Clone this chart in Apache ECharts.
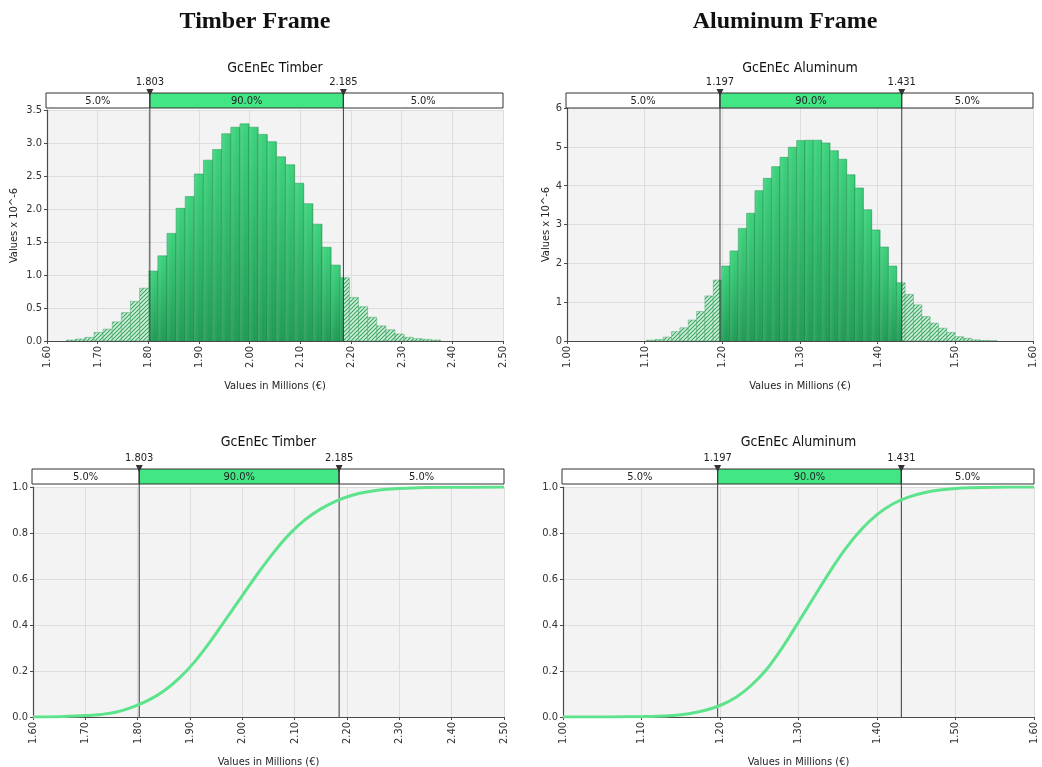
<!DOCTYPE html>
<html><head><meta charset="utf-8">
<script src="https://cdn.jsdelivr.net/npm/echarts@6/dist/echarts.min.js"></script>
<style>html,body{margin:0;padding:0;background:#fff}#c{width:1042px;height:767px}</style>
</head><body><div id="c"></div>
<script>
// ---------------- data ----------------
const timberBinStart = 1.6388;
const timberBinWidth = 0.018;
const timberDensity = [0.015, 0.03, 0.055, 0.13, 0.18, 0.29, 0.43, 0.60, 0.80, 1.06, 1.29, 1.63, 2.01, 2.19, 2.53, 2.74, 2.90, 3.14, 3.24, 3.29, 3.24, 3.13, 3.02, 2.79, 2.67, 2.39, 2.08, 1.77, 1.42, 1.15, 0.96, 0.66, 0.52, 0.36, 0.23, 0.17, 0.106, 0.056, 0.035, 0.025, 0.015];
const aluBinStart = 1.1024;
const aluBinWidth = 0.01074;
const aluDensity = [0.02, 0.04, 0.10, 0.24, 0.34, 0.54, 0.76, 1.16, 1.57, 1.93, 2.32, 2.90, 3.29, 3.87, 4.19, 4.49, 4.73, 4.99, 5.16, 5.17, 5.17, 5.10, 4.90, 4.68, 4.28, 3.94, 3.38, 2.86, 2.42, 1.93, 1.50, 1.20, 0.93, 0.63, 0.46, 0.33, 0.22, 0.11, 0.07, 0.03, 0.015, 0.008];
const timberDelims = [1.803, 2.185];
const aluDelims = [1.197, 1.431];
const pctLabels = ['5.0%', '90.0%', '5.0%'];
const timberCdfX = [1.60, 1.65, 1.70, 1.73, 1.76, 1.79, 1.82, 1.85, 1.88, 1.91, 1.94, 1.97, 2.00, 2.03, 2.06, 2.09, 2.12, 2.15, 2.18, 2.21, 2.24, 2.27, 2.30, 2.35, 2.40, 2.50];
const timberCdfY = [0, 0.001, 0.006, 0.011, 0.022, 0.043, 0.072, 0.113, 0.17, 0.243, 0.332, 0.43, 0.528, 0.625, 0.716, 0.795, 0.858, 0.905, 0.94, 0.964, 0.979, 0.989, 0.994, 0.998, 0.999, 1.0];
const aluCdfX = [1.00, 1.04, 1.08, 1.10, 1.12, 1.14, 1.16, 1.18, 1.20, 1.22, 1.24, 1.26, 1.28, 1.30, 1.32, 1.34, 1.36, 1.38, 1.40, 1.42, 1.44, 1.46, 1.48, 1.50, 1.52, 1.55, 1.60];
const aluCdfY = [0, 0, 0.001, 0.0015, 0.003, 0.007, 0.014, 0.028, 0.05, 0.085, 0.138, 0.21, 0.305, 0.413, 0.523, 0.632, 0.732, 0.815, 0.88, 0.926, 0.956, 0.975, 0.987, 0.994, 0.997, 0.999, 1.0];
const mainTitles = ['Timber Frame', 'Aluminum Frame'];
const subTitles = ['GcEnEc Timber', 'GcEnEc Aluminum'];
const xAxisName = 'Values in Millions (€)';
const yAxisName = 'Values x 10^-6';

// ---------------- helpers ----------------
const FONT = "'DejaVu Sans Condensed','DejaVu Sans',sans-serif";
function bins(start, w, vals) { return vals.map((v, i) => [start + i * w, start + (i + 1) * w, v]); }
function pairs(xs, ys) { return xs.map((x, i) => [x, ys[i]]); }

const pc = document.createElement('canvas'); pc.width = 4; pc.height = 4;
(function () {
  const g = pc.getContext('2d');
  g.fillStyle = '#d3eedb'; g.fillRect(0, 0, 4, 4);
  g.strokeStyle = '#36a462'; g.lineWidth = 1.1;
  g.beginPath();
  g.moveTo(0, 4); g.lineTo(4, 0);
  g.moveTo(-1, 1); g.lineTo(1, -1);
  g.moveTo(3, 5); g.lineTo(5, 3);
  g.stroke();
})();
const hatchPattern = { image: pc, repeat: 'repeat' };

function makeHistRender(delims) {
  return function (params, api) {
    const a = api.value(0), b = api.value(1), h = api.value(2);
    const pieces = [[a, Math.min(b, delims[0]), true], [Math.max(a, delims[0]), Math.min(b, delims[1]), false], [Math.max(a, delims[1]), b, true]];
    const children = [];
    pieces.forEach(([s, e, hatch]) => {
      if (e - s <= 1e-9) return;
      const p0 = api.coord([s, h]), p1 = api.coord([e, 0]);
      const shape = { x: p0[0], y: p0[1], width: p1[0] - p0[0], height: p1[1] - p0[1] };
      if (hatch) {
        children.push({ type: 'rect', shape, style: { fill: hatchPattern, stroke: '#4cae70', lineWidth: 0.5 } });
      } else {
        children.push({ type: 'rect', shape, style: { fill: new echarts.graphic.LinearGradient(0, 0, 0, 1, [{ offset: 0, color: '#3ad37b' }, { offset: 1, color: '#1e9a54' }]), stroke: '#1f9350', lineWidth: 0.5 } });
        children.push({ type: 'rect', shape, silent: true, style: { fill: new echarts.graphic.LinearGradient(0, 0, 1, 0, [{ offset: 0, color: 'rgba(255,255,255,0.12)' }, { offset: 0.6, color: 'rgba(255,255,255,0)' }, { offset: 1, color: 'rgba(0,60,20,0.15)' }]) } });
      }
    });
    return { type: 'group', children };
  };
}

function txt(x, y, text, size, va) {
  return { type: 'text', style: { text, x, y, font: size + 'px ' + FONT, fill: '#222', align: 'center', textAlign: 'center', verticalAlign: va || 'middle', textVerticalAlign: va || 'middle' } };
}

function makePctRender(barOffset) {
  return function (params, api) {
    const cs = params.coordSys;
    const d0 = api.value(0), d1 = api.value(1);
    const top = cs.y - barOffset, bh = 15;
    const x0 = api.coord([d0, 0])[0], x1 = api.coord([d1, 0])[0];
    const left = cs.x - 1, right = cs.x + cs.width;
    const bottom = cs.y + cs.height;
    const segs = [[left, x0, '#ffffff'], [x0, x1, '#42e685'], [x1, right, '#ffffff']];
    const children = [];
    segs.forEach((s, i) => {
      children.push({ type: 'rect', shape: { x: s[0], y: top, width: s[1] - s[0], height: bh }, style: { fill: s[2], stroke: '#333', lineWidth: 1 } });
      children.push(txt((s[0] + s[1]) / 2, top + bh / 2 + 0.5, pctLabels[i], 11));
    });
    [[x0, d0], [x1, d1]].forEach(([x, d]) => {
      children.push({ type: 'line', shape: { x1: x, y1: top, x2: x, y2: bottom }, style: { stroke: '#3a3a3a', lineWidth: 1 } });
      children.push({ type: 'polygon', shape: { points: [[x - 3.5, top - 4], [x + 3.5, top - 4], [x, top + 3]] }, style: { fill: '#333' } });
      children.push(txt(x, top - 5, d.toFixed(3), 11, 'bottom'));
    });
    return { type: 'group', children };
  };
}

// ---------------- layout ----------------
const panels = [
  { grid: { left: 47, top: 110, width: 456, height: 231 }, xmin: 1.6, xmax: 2.5, ymax: 3.5, yint: 0.5, ydec: 1, yName: true, nameGap: 27, delims: timberDelims, bar: 17, kind: 'hist', data: bins(timberBinStart, timberBinWidth, timberDensity), sub: subTitles[0], subY: 68 },
  { grid: { left: 567, top: 108, width: 466, height: 233 }, xmin: 1.0, xmax: 1.6, ymax: 6, yint: 1, ydec: 0, yName: true, nameGap: 15, delims: aluDelims, bar: 15, kind: 'hist', data: bins(aluBinStart, aluBinWidth, aluDensity), sub: subTitles[1], subY: 68 },
  { grid: { left: 33, top: 487, width: 471, height: 230 }, xmin: 1.6, xmax: 2.5, ymax: 1, yint: 0.2, ydec: 1, yName: false, delims: timberDelims, bar: 18, kind: 'cdf', data: pairs(timberCdfX, timberCdfY), sub: subTitles[0], subY: 442 },
  { grid: { left: 563, top: 487, width: 471, height: 230 }, xmin: 1.0, xmax: 1.6, ymax: 1, yint: 0.2, ydec: 1, yName: false, delims: aluDelims, bar: 18, kind: 'cdf', data: pairs(aluCdfX, aluCdfY), sub: subTitles[1], subY: 442 }
];

const axisColor = '#4a4a4a';
const option = {
  animation: false,
  textStyle: { fontFamily: FONT },
  grid: panels.map(p => Object.assign({ show: true, backgroundColor: '#f3f3f3', borderWidth: 0, containLabel: false, outerBoundsMode: 'none' }, p.grid)),
  xAxis: panels.map((p, i) => ({
    type: 'value', gridIndex: i, min: p.xmin, max: p.xmax, interval: 0.1,
    name: xAxisName, nameLocation: 'middle', nameGap: 40, nameTextStyle: { fontSize: 11, color: '#222', fontFamily: FONT },
    axisLine: { show: true, onZero: false, lineStyle: { color: axisColor, width: 1.2 } },
    axisTick: { show: true, length: 3, lineStyle: { color: axisColor } },
    axisLabel: { rotate: 90, fontSize: 11, color: '#333', margin: 5, formatter: v => v.toFixed(2), showMinLabel: true, showMaxLabel: true },
    splitLine: { show: true, lineStyle: { color: '#dddddd', width: 1 } }
  })),
  yAxis: panels.map((p, i) => ({
    type: 'value', gridIndex: i, min: 0, max: p.ymax, interval: p.yint,
    name: p.yName ? yAxisName : '', nameLocation: 'middle', nameGap: p.nameGap || 30, nameTextStyle: { fontSize: 11, color: '#222', fontFamily: FONT },
    axisLine: { show: true, lineStyle: { color: axisColor, width: 1.2 } },
    axisTick: { show: true, length: 3, lineStyle: { color: axisColor } },
    axisLabel: { fontSize: 11, color: '#333', margin: 5, formatter: v => v.toFixed(p.ydec) },
    splitLine: { show: true, lineStyle: { color: '#dddddd', width: 1 } }
  })),
  series: [],
  graphic: [
    { type: 'text', x: 255, y: 10, style: { text: mainTitles[0], font: 'bold 24px "Liberation Serif", serif', fill: '#111', align: 'center', textAlign: 'center' } },
    { type: 'text', x: 785, y: 10, style: { text: mainTitles[1], font: 'bold 24px "Liberation Serif", serif', fill: '#111', align: 'center', textAlign: 'center' } }
  ]
};

panels.forEach((p, i) => {
  if (p.kind === 'hist') {
    option.series.push({ type: 'custom', xAxisIndex: i, yAxisIndex: i, z: 2, clip: true, renderItem: makeHistRender(p.delims), encode: { x: [0, 1], y: 2 }, data: p.data });
  } else {
    option.series.push({ type: 'line', xAxisIndex: i, yAxisIndex: i, z: 6, data: p.data, showSymbol: false, smooth: 0.4, lineStyle: { color: '#5ce38c', width: 3 } });
  }
  option.series.push({ type: 'custom', xAxisIndex: i, yAxisIndex: i, z: 5, clip: false, renderItem: makePctRender(p.bar), data: [[p.delims[0], p.delims[1]]] });
  option.graphic.push({ type: 'text', x: p.grid.left + p.grid.width / 2, y: p.subY, style: { text: p.sub, font: '14px ' + FONT, fill: '#111', align: 'center', textAlign: 'center', verticalAlign: 'middle', textVerticalAlign: 'middle' } });
});

const chart = echarts.init(document.getElementById('c'), null, { renderer: 'canvas' });
chart.setOption(option);
</script>
</body></html>
